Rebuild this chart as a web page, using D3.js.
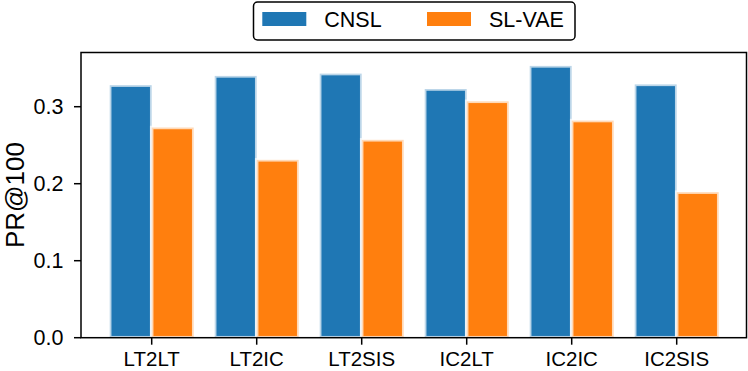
<!DOCTYPE html>
<html><head><meta charset="utf-8">
<script src="https://cdn.jsdelivr.net/npm/d3@7"></script>
<style>body{margin:0;background:#fff}svg{display:block}text{font-family:"Liberation Sans",Arial,sans-serif;fill:#000}</style>
</head><body><svg id="c" width="748" height="371"></svg>
<script>
const categories = ["LT2LT","LT2IC","LT2SIS","IC2LT","IC2IC","IC2SIS"];
const seriesNames = ["CNSL","SL-VAE"];
const cnsl = [0.328,0.340,0.343,0.323,0.353,0.329];
const slvae = [0.273,0.231,0.257,0.307,0.282,0.189];
const yTicks = [0.0,0.1,0.2,0.3];
const colors = ["#1f77b4","#ff7f0e"];

const svg = d3.select("#c");
const L = 81, R = 746.5, T = 52.5, B = 337.7;
const x = d3.scaleBand().domain(categories).range([L + 70.7 - 52.5, R - 69.8 + 52.5]).paddingInner(0).paddingOuter(0);
const xc = c => x(c) + x.bandwidth() / 2;
const y = d3.scaleLinear().domain([0, 0.3704]).range([B, T]);
const bw = 42;

const g = svg.append("g");
[cnsl, slvae].forEach((vals, s) => {
  g.selectAll(null).data(vals).enter().append("rect")
    .attr("x", (d,i) => xc(categories[i]) + (s === 0 ? -bw : 0))
    .attr("y", d => y(d))
    .attr("width", bw)
    .attr("height", d => B - y(d))
    .attr("fill", colors[s])
    .attr("stroke", "#fff").attr("stroke-opacity", 0.7).attr("stroke-width", 3.5);
});

svg.append("rect").attr("x", L).attr("y", T).attr("width", R-L).attr("height", B-T)
  .attr("fill","none").attr("stroke","#000").attr("stroke-width",1.5);

const yAxis = svg.append("g");
yTicks.forEach(t => {
  yAxis.append("line").attr("x1", L-7).attr("x2", L).attr("y1", y(t)).attr("y2", y(t)).attr("stroke","#000").attr("stroke-width",1.5);
  yAxis.append("text").attr("x", L-17.5).attr("y", y(t)).attr("dy","0.36em").attr("text-anchor","end")
    .style("font-size","21.5px").text(t.toFixed(1));
});
categories.forEach((c) => {
  svg.append("line").attr("x1", xc(c)).attr("x2", xc(c)).attr("y1", B).attr("y2", B+7).attr("stroke","#000").attr("stroke-width",1.5);
  svg.append("text").attr("x", xc(c)).attr("y", 366).attr("text-anchor","middle").style("font-size","20.5px").text(c);
});

svg.append("text").attr("transform", `translate(23.5,${(T+B)/2}) rotate(-90)`).attr("text-anchor","middle")
  .style("font-size","26px").text("PR@100");

const lg = svg.append("g");
lg.append("rect").attr("x",253.5).attr("y",2).attr("width",321.5).attr("height",38).attr("rx",4)
  .attr("fill","#fff").attr("stroke","#000").attr("stroke-width",1.5);
const legX = [262.3, 427];
seriesNames.forEach((n,s) => {
  lg.append("rect").attr("x", legX[s]).attr("y",12).attr("width",44).attr("height",14).attr("fill",colors[s]);
  lg.append("text").attr("x", legX[s]+62).attr("y",19.5).attr("dy","0.36em").style("font-size","21.5px").text(n);
});
</script></body></html>
